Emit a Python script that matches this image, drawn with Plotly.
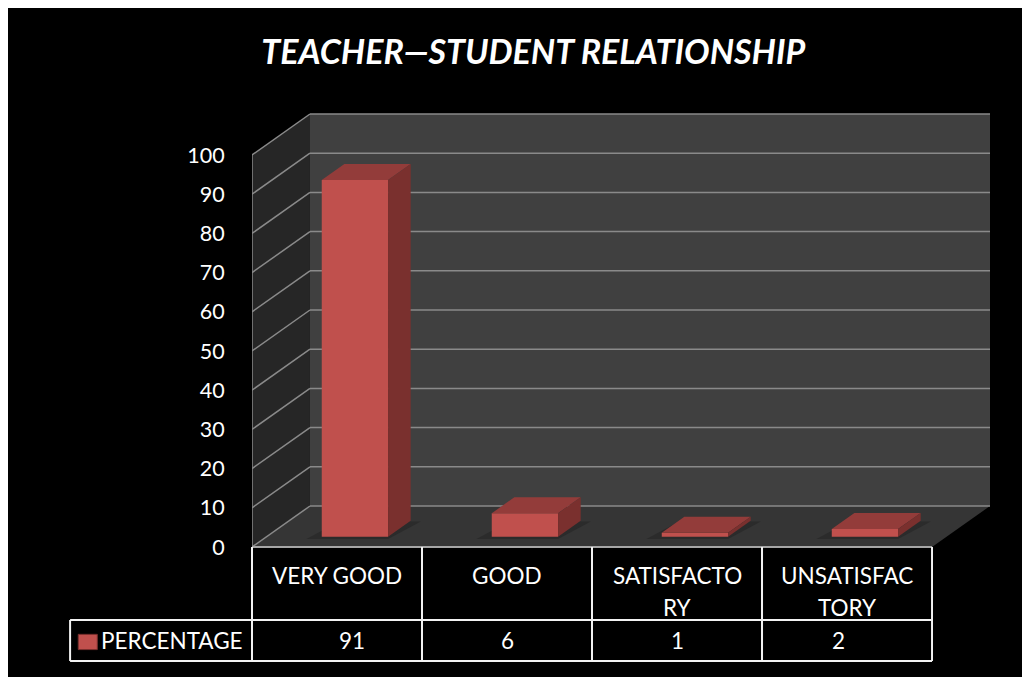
import plotly.graph_objects as go

categories = ["VERY GOOD", "GOOD", "SATISFACTO<br>RY", "UNSATISFAC<br>TORY"]
percentage = [91, 6, 1, 2]
series_name = "PERCENTAGE"
y_ticks = list(range(0, 101, 10))
chart_title = "TEACHER\u2014STUDENT RELATIONSHIP"

# 3D look: depth offset of the back wall, in axis units
DX = 0.341
DY = 10.46
X_MAX = len(categories) + DX
Y_MAX = 110.97

# bar geometry (fractions of depth / category width)
BAR_W = 0.39
BAR_C = 0.52
D_FRONT = 0.25
D_BACK = 0.64

RED = "#c0504d"
RED_TOP = "#933c3a"
RED_SIDE = "#7a302e"
GRID = "#8a8a8a"
FONT = "Lato"

fig = go.Figure()

n = len(categories)
base = D_FRONT * DY
ddx = (D_BACK - D_FRONT) * DX
ddy = (D_BACK - D_FRONT) * DY

fig.add_trace(go.Bar(
    x=[i + BAR_C + D_FRONT * DX for i in range(n)],
    y=percentage,
    base=base,
    width=BAR_W,
    marker=dict(color=RED, line=dict(width=0)),
    name=series_name,
    hoverinfo="skip",
    showlegend=False,
))

# top and side faces of each bar
for i, v in enumerate(percentage):
    xl = i + BAR_C - BAR_W / 2 + D_FRONT * DX
    xr = xl + BAR_W
    yt = v + base
    fig.add_trace(go.Scatter(
        x=[xl, xr, xr + ddx, xl + ddx, xl],
        y=[yt, yt, yt + ddy, yt + ddy, yt],
        fill="toself", fillcolor=RED_TOP, mode="lines", line=dict(width=0),
        hoverinfo="skip", showlegend=False,
    ))
    fig.add_trace(go.Scatter(
        x=[xr, xr + ddx, xr + ddx, xr, xr],
        y=[base, base + ddy, yt + ddy, yt, base],
        fill="toself", fillcolor=RED_SIDE, mode="lines", line=dict(width=0),
        hoverinfo="skip", showlegend=False,
    ))

shapes = []
# walls and floor
top = y_ticks[-1]
shapes.append(dict(type="path", xref="x", yref="y", layer="below", line=dict(width=0),
                   fillcolor="#262626",
                   path=f"M0,0 L0,{top} L{DX},{top + DY} L{DX},{DY} Z"))
shapes.append(dict(type="path", xref="x", yref="y", layer="below", line=dict(width=0),
                   fillcolor="#404040",
                   path=f"M{DX},{DY} L{X_MAX},{DY} L{X_MAX},{top + DY} L{DX},{top + DY} Z"))
shapes.append(dict(type="path", xref="x", yref="y", layer="below", line=dict(width=0),
                   fillcolor="#353535",
                   path=f"M0,0 L{n},0 L{X_MAX},{DY} L{DX},{DY} Z"))
# soft shadows on the floor under each bar
for i in range(n):
    xl = i + BAR_C - BAR_W / 2 + D_FRONT * DX - 0.09
    xr = xl + BAR_W + 0.09
    y0 = base - 0.6
    shapes.append(dict(type="path", xref="x", yref="y", layer="below", line=dict(width=0),
                       fillcolor="#2b2b2b",
                       path=f"M{xl},{y0} L{xr},{y0} L{xr + ddx + 0.06},{y0 + ddy + 0.4} "
                            f"L{xl + ddx + 0.06},{y0 + ddy + 0.4} Z"))
# gridlines on back and side walls
for t in y_ticks:
    shapes.append(dict(type="line", xref="x", yref="y", layer="below",
                       x0=DX, x1=X_MAX, y0=t + DY, y1=t + DY, line=dict(color=GRID, width=1.5)))
    shapes.append(dict(type="line", xref="x", yref="y", layer="below",
                       x0=0, x1=DX, y0=t, y1=t + DY, line=dict(color=GRID, width=1.5)))
shapes.append(dict(type="line", xref="x", yref="y", layer="below",
                   x0=0, x1=0, y0=0, y1=top, line=dict(color=GRID, width=1.5)))

# data table under the plot
def px(xd):
    return xd / X_MAX

row1 = -73 / 435
row2 = -114 / 435
leg_left = px(-1.07)
tbl = dict(color="#f2f2f2", width=2)
shapes.append(dict(type="line", xref="paper", yref="paper", x0=0, x1=px(n), y0=0, y1=0,
                   line=dict(color="#a6a6a6", width=2)))
for y in (row1, row2):
    shapes.append(dict(type="line", xref="paper", yref="paper", x0=leg_left, x1=px(n), y0=y, y1=y, line=tbl))
shapes.append(dict(type="line", xref="paper", yref="paper", x0=leg_left, x1=leg_left, y0=row1, y1=row2, line=tbl))
for i in range(n + 1):
    shapes.append(dict(type="line", xref="paper", yref="paper", x0=px(i), x1=px(i), y0=0, y1=row2, line=tbl))
# legend key
shapes.append(dict(type="rect", xref="paper", yref="paper",
                   x0=px(-1.022), x1=px(-0.91), y0=row1 - 0.033, y1=row1 - 0.068,
                   fillcolor=RED, line=dict(color=RED_SIDE, width=1)))

annotations = []
for i, c in enumerate(categories):
    for k, part in enumerate(c.split("<br>")):
        annotations.append(dict(x=i + 0.5, xref="x", y=-28 / 435 - k * 32 / 435, yref="paper",
                                text=part, showarrow=False, yanchor="middle",
                                font=dict(family=FONT, size=22.5, color="white")))
    annotations.append(dict(x=px(i + 0.5), xref="paper", y=(row1 + row2) / 2, yref="paper",
                            text=str(percentage[i]), showarrow=False, yanchor="middle",
                            font=dict(family=FONT, size=22.5, color="white")))
annotations.append(dict(x=px(-0.9), xref="paper", y=(row1 + row2) / 2, yref="paper",
                        text=series_name, showarrow=False, xanchor="left", yanchor="middle",
                        font=dict(family=FONT, size=22.5, color="white")))

fig.update_layout(
    width=1030, height=677,
    margin=dict(l=244, r=48, t=104, b=138),
    paper_bgcolor="black", plot_bgcolor="black",
    title=dict(text=f"<b><i>{chart_title}</i></b>", x=0.51, xanchor="center",
               y=1 - 44 / 677, yanchor="middle", font=dict(family=FONT, size=34, color="white")),
    xaxis=dict(range=[0, X_MAX], showgrid=False, zeroline=False, showticklabels=False,
               showline=False, fixedrange=True),
    yaxis=dict(range=[0, Y_MAX], tickvals=y_ticks, showgrid=False, zeroline=False,
               showline=False, ticks="outside", ticklen=22, tickcolor="rgba(0,0,0,0)",
               tickfont=dict(family=FONT, size=21.5, color="white"), fixedrange=True),
    shapes=shapes,
    annotations=annotations,
    showlegend=False,
)

fig.write_html("out.html")
